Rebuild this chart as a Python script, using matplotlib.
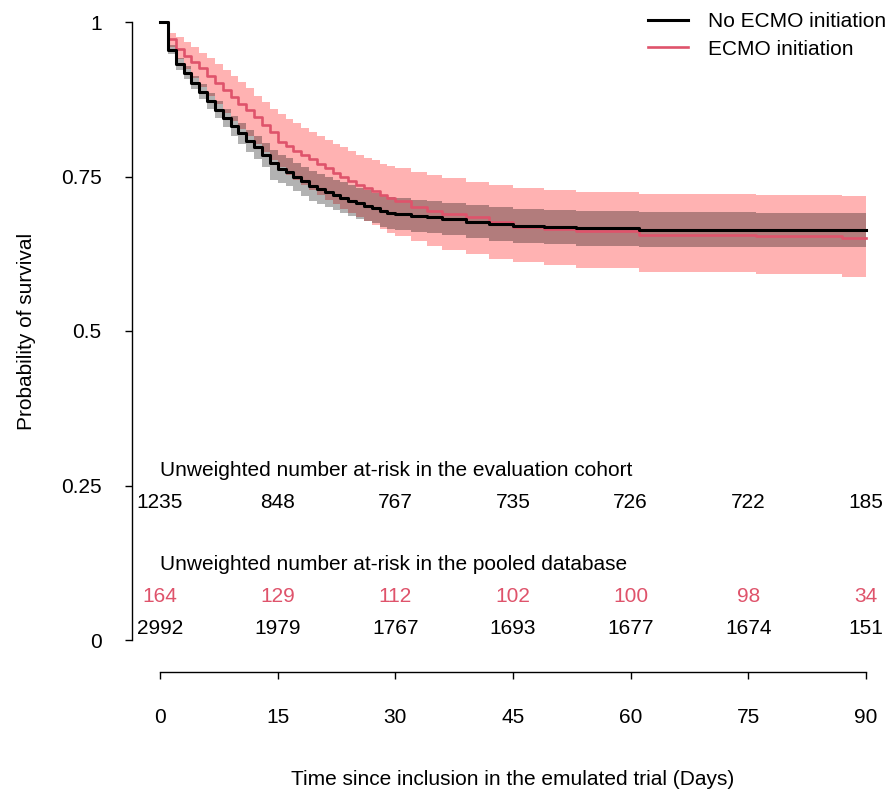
import matplotlib

matplotlib.use("Agg")
import matplotlib.pyplot as plt
from matplotlib.lines import Line2D

plt.rcParams["font.family"] = ["Liberation Sans", "DejaVu Sans"]
plt.rcParams["font.size"] = 15

RED = "#DF536B"

# step times (days) and Kaplan-Meier estimates
days = [0, 1, 2, 3, 4, 5, 6, 7, 8, 9, 10, 11, 12, 13, 14, 15, 16, 17, 18, 19,
        20, 21, 22, 23, 24, 25, 26, 27, 28, 29, 30, 32, 34, 36, 39, 42, 45,
        49, 53, 61, 76, 87]
end_day = 90

no_ecmo = [1.0, 0.955, 0.932, 0.918, 0.902, 0.887, 0.872, 0.858, 0.845, 0.832,
           0.820, 0.808, 0.797, 0.785, 0.772, 0.762, 0.757, 0.749, 0.742, 0.735,
           0.730, 0.725, 0.720, 0.716, 0.711, 0.707, 0.703, 0.699, 0.694, 0.691,
           0.689, 0.686, 0.684, 0.681, 0.677, 0.673, 0.670, 0.668, 0.666, 0.664,
           0.663, 0.663]
no_ecmo_hi = [1.0, 0.962, 0.941, 0.928, 0.913, 0.899, 0.885, 0.872, 0.860, 0.848,
              0.837, 0.826, 0.816, 0.805, 0.793, 0.784, 0.780, 0.772, 0.766, 0.759,
              0.754, 0.749, 0.745, 0.741, 0.736, 0.732, 0.728, 0.724, 0.720, 0.717,
              0.715, 0.712, 0.710, 0.707, 0.704, 0.700, 0.698, 0.696, 0.694, 0.692,
              0.6915, 0.6915]
no_ecmo_lo = [1.0, 0.948, 0.923, 0.908, 0.891, 0.875, 0.859, 0.844, 0.830, 0.816,
              0.803, 0.790, 0.778, 0.765, 0.745, 0.740, 0.734, 0.726, 0.718, 0.711,
              0.706, 0.701, 0.695, 0.691, 0.686, 0.682, 0.678, 0.674, 0.668, 0.665,
              0.663, 0.660, 0.658, 0.655, 0.650, 0.646, 0.643, 0.640, 0.638, 0.6365,
              0.6355, 0.6355]

ecmo = [1.0, 0.972, 0.957, 0.945, 0.936, 0.925, 0.913, 0.902, 0.890, 0.879,
        0.868, 0.857, 0.846, 0.834, 0.822, 0.806, 0.800, 0.792, 0.785, 0.778,
        0.770, 0.763, 0.756, 0.750, 0.743, 0.737, 0.731, 0.726, 0.720, 0.715,
        0.710, 0.700, 0.694, 0.689, 0.684, 0.676, 0.669, 0.665, 0.662, 0.656,
        0.653, 0.650]
ecmo_hi = [1.0, 0.983, 0.976, 0.968, 0.959, 0.950, 0.941, 0.932, 0.922, 0.912,
           0.903, 0.893, 0.880, 0.870, 0.860, 0.851, 0.843, 0.836, 0.829, 0.822,
           0.815, 0.809, 0.803, 0.797, 0.791, 0.785, 0.780, 0.776, 0.771, 0.767,
           0.763, 0.757, 0.752, 0.747, 0.741, 0.736, 0.732, 0.728, 0.725, 0.722,
           0.720, 0.718]
ecmo_lo = [1.0, 0.960, 0.940, 0.924, 0.909, 0.895, 0.881, 0.867, 0.853, 0.840,
           0.827, 0.815, 0.802, 0.789, 0.777, 0.765, 0.753, 0.744, 0.736, 0.728,
           0.720, 0.712, 0.705, 0.698, 0.691, 0.684, 0.678, 0.672, 0.665, 0.659,
           0.654, 0.645, 0.637, 0.631, 0.625, 0.617, 0.611, 0.606, 0.602, 0.596,
           0.592, 0.588]

# at-risk tables
risk_days = [0, 15, 30, 45, 60, 75, 90]
risk_eval = [1235, 848, 767, 735, 726, 722, 185]
risk_pool_ecmo = [164, 129, 112, 102, 100, 98, 34]
risk_pool_no = [2992, 1979, 1767, 1693, 1677, 1674, 151]

y_ticks = [0, 0.25, 0.5, 0.75, 1]
y_labels = ["0", "0.25", "0.5", "0.75", "1"]


def _ext(vals):
    # carry last value to end of follow-up
    return vals + [vals[-1]]


t = days + [end_day]

fig = plt.figure(figsize=(8.86, 7.89), dpi=100)
ax = fig.add_axes([160 / 886, 1 - 640 / 789, 706 / 886, 618 / 789])
ax.set_xlim(0, 90)
ax.set_ylim(0, 1)

ax.fill_between(t, _ext(ecmo_lo), _ext(ecmo_hi), step="post",
                color=(1, 0, 0, 0.3), linewidth=0, clip_on=False)
ax.fill_between(t, _ext(no_ecmo_lo), _ext(no_ecmo_hi), step="post",
                color=(0, 0, 0, 0.3), linewidth=0, clip_on=False)
ax.step(t, _ext(ecmo), where="post", color=RED, linewidth=1.9, clip_on=False)
ax.step(t, _ext(no_ecmo), where="post", color="black", linewidth=2.2,
        clip_on=False)

# axes in base-R style
for s in ("top", "right"):
    ax.spines[s].set_visible(False)
ax.spines["left"].set_position(("outward", 20))
ax.spines["bottom"].set_position(("outward", 23))
ax.spines["left"].set_bounds(0, 1)
ax.spines["bottom"].set_bounds(0, 90)
ax.spines["left"].set_linewidth(1.0)
ax.spines["bottom"].set_linewidth(1.0)
ax.set_yticks(y_ticks, y_labels)
ax.set_xticks(risk_days)
ax.tick_params(axis="y", length=5, width=1.0, pad=17)
ax.tick_params(axis="x", length=5, width=1.0, pad=21)
ax.set_ylabel("Probability of survival", labelpad=18)
ax.set_xlabel("Time since inclusion in the emulated trial (Days)", labelpad=31)

# number at risk
ax.text(0, 0.2735, "Unweighted number at-risk in the evaluation cohort",
        ha="left", va="center", clip_on=False)
ax.text(0, 0.1214, "Unweighted number at-risk in the pooled database",
        ha="left", va="center", clip_on=False)
for d, a, b, c in zip(risk_days, risk_eval, risk_pool_ecmo, risk_pool_no):
    ax.text(d, 0.2217, str(a), ha="center", va="center", clip_on=False)
    ax.text(d, 0.0696, str(b), ha="center", va="center", color=RED,
            clip_on=False)
    ax.text(d, 0.0194, str(c), ha="center", va="center", clip_on=False)

handles = [Line2D([], [], color="black", linewidth=2.2),
           Line2D([], [], color=RED, linewidth=1.9)]
ax.legend(handles, ["No ECMO initiation", "ECMO initiation"], frameon=False,
          loc="upper left", bbox_to_anchor=(648 / 886, 1 - 12 / 789),
          bbox_transform=fig.transFigure, borderpad=0, borderaxespad=0,
          handlelength=1.92, handletextpad=0.96, labelspacing=0.42)

fig.savefig("out.png", dpi=100)
